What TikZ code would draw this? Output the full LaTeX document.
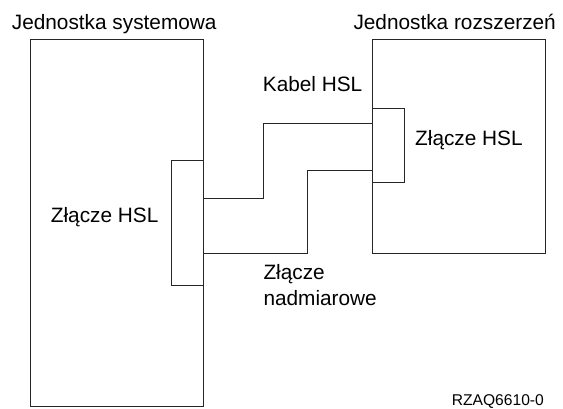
\documentclass[tikz,border=0pt]{standalone}
\usepackage{fontspec}
\setmainfont{Liberation Sans}
\begin{document}
\begin{tikzpicture}[x=1pt,y=-1pt,
  line/.style={draw=black!85,line width=0.9pt},
  lbl/.style={inner sep=0pt,anchor=base west,font=\fontsize{20.8}{26}\selectfont},
  tag/.style={inner sep=0pt,anchor=base west,font=\fontsize{15.6}{19}\selectfont}]
\useasboundingbox (0,0) rectangle (563,408);

% units
\draw[line] (30,39.3) rectangle (203.5,406.3);
\draw[line] (372.7,39.3) rectangle (545.3,253);

% HSL connectors
\draw[line] (203.5,160) -- (171.7,160) -- (171.7,285) -- (203.5,285);
\draw[line] (372.7,108.5) -- (404,108.5) -- (404,182) -- (372.7,182);

% cable endpoints
\coordinate (a1) at (203.5,198);
\coordinate (b1) at (372.7,123);
\coordinate (a2) at (203.5,253);
\coordinate (b2) at (372.7,170);
\draw[line] (a1) -- (263,198) -- (263,123) -- (b1);
\draw[line] (a2) -- (307,253) -- (307,170) -- (b2);

% labels
\node[lbl] (t1) at (11.7,29) {Jednostka systemowa};
\node[lbl] (t2) at (353.3,29) {Jednostka rozszerzeń};
\node[lbl] (kab) at (262.7,91) {Kabel HSL};
\node[lbl] (zl) at (50.7,222.7) {Złącze HSL};
\node[lbl] (zr) at (415,145.7) {Złącze HSL};
\node[lbl] (zn1) at (263.3,279) {Złącze};
\node[lbl] (zn2) at (263.3,305) {nadmiarowe};
\node[tag] (id) at (451.7,405.3) {RZAQ6610-0};
\end{tikzpicture}
\end{document}
